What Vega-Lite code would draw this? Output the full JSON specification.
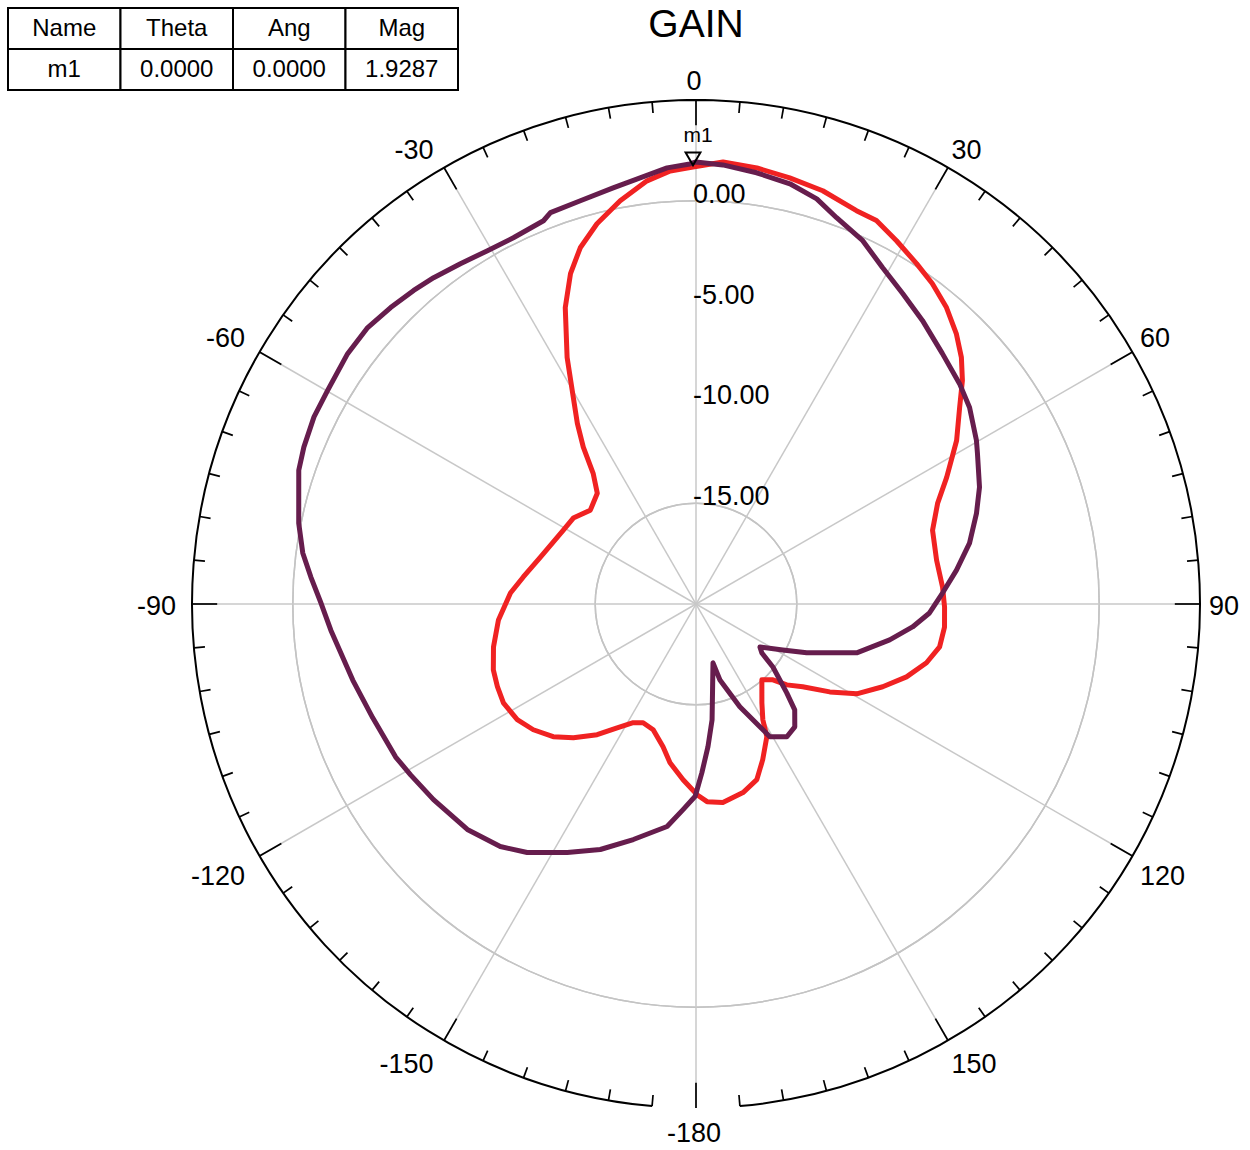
{
  "$schema": "https://vega.github.io/schema/vega-lite/v6.json",
  "width": 1008,
  "height": 1008,
  "autosize": "none",
  "padding": {"left": 192, "top": 100, "right": 50, "bottom": 42},
  "background": "white",
  "config": {"view": {"stroke": null}, "axis": {"disable": true}, "font": "Liberation Sans", "text": {"font": "Liberation Sans"}},
  "resolve": {"scale": {"x": "independent", "y": "independent"}},
  "datasets": {
    "curves": [
      {"s": "trace1", "theta": -180, "gain": -10.6},
      {"s": "trace1", "theta": -175.8, "gain": -11.26},
      {"s": "trace1", "theta": -170.7, "gain": -12.02},
      {"s": "trace1", "theta": -167.0, "gain": -12.73},
      {"s": "trace1", "theta": -161.2, "gain": -13.41},
      {"s": "trace1", "theta": -156.0, "gain": -13.55},
      {"s": "trace1", "theta": -152.1, "gain": -13.34},
      {"s": "trace1", "theta": -147.5, "gain": -12.72},
      {"s": "trace1", "theta": -142.9, "gain": -11.87},
      {"s": "trace1", "theta": -137.5, "gain": -11.0},
      {"s": "trace1", "theta": -132.9, "gain": -10.33},
      {"s": "trace1", "theta": -127.7, "gain": -9.8},
      {"s": "trace1", "theta": -122.9, "gain": -9.44},
      {"s": "trace1", "theta": -117.2, "gain": -9.26},
      {"s": "trace1", "theta": -112.6, "gain": -9.33},
      {"s": "trace1", "theta": -108.0, "gain": -9.43},
      {"s": "trace1", "theta": -102.0, "gain": -9.73},
      {"s": "trace1", "theta": -94.6, "gain": -10.17},
      {"s": "trace1", "theta": -86.6, "gain": -10.78},
      {"s": "trace1", "theta": -81.1, "gain": -11.33},
      {"s": "trace1", "theta": -73.2, "gain": -11.94},
      {"s": "trace1", "theta": -60.9, "gain": -12.47},
      {"s": "trace1", "theta": -55.0, "gain": -12.57},
      {"s": "trace1", "theta": -48.4, "gain": -12.99},
      {"s": "trace1", "theta": -41.7, "gain": -12.64},
      {"s": "trace1", "theta": -38.2, "gain": -11.75},
      {"s": "trace1", "theta": -35.7, "gain": -10.42},
      {"s": "trace1", "theta": -33.3, "gain": -9.28},
      {"s": "trace1", "theta": -30.1, "gain": -7.76},
      {"s": "trace1", "theta": -27.6, "gain": -6.2},
      {"s": "trace1", "theta": -23.8, "gain": -3.93},
      {"s": "trace1", "theta": -20.8, "gain": -2.47},
      {"s": "trace1", "theta": -18.0, "gain": -1.42},
      {"s": "trace1", "theta": -14.6, "gain": -0.51},
      {"s": "trace1", "theta": -10.65, "gain": 0.35},
      {"s": "trace1", "theta": -6.6, "gain": 1.13},
      {"s": "trace1", "theta": -3.4, "gain": 1.52},
      {"s": "trace1", "theta": -0.4, "gain": 1.68},
      {"s": "trace1", "theta": 3.5, "gain": 1.97},
      {"s": "trace1", "theta": 7.95, "gain": 1.84},
      {"s": "trace1", "theta": 12.4, "gain": 1.64},
      {"s": "trace1", "theta": 17.05, "gain": 1.44},
      {"s": "trace1", "theta": 22.2, "gain": 1.07},
      {"s": "trace1", "theta": 25.2, "gain": 1.02},
      {"s": "trace1", "theta": 28.9, "gain": 0.58},
      {"s": "trace1", "theta": 32.95, "gain": 0.12},
      {"s": "trace1", "theta": 36.4, "gain": -0.25},
      {"s": "trace1", "theta": 40.2, "gain": -0.75},
      {"s": "trace1", "theta": 43.9, "gain": -1.38},
      {"s": "trace1", "theta": 47.1, "gain": -2.03},
      {"s": "trace1", "theta": 50.0, "gain": -2.75},
      {"s": "trace1", "theta": 53.3, "gain": -3.69},
      {"s": "trace1", "theta": 57.9, "gain": -4.74},
      {"s": "trace1", "theta": 63.2, "gain": -6.07},
      {"s": "trace1", "theta": 67.4, "gain": -7.02},
      {"s": "trace1", "theta": 72.7, "gain": -7.71},
      {"s": "trace1", "theta": 79.7, "gain": -7.87},
      {"s": "trace1", "theta": 86.1, "gain": -7.74},
      {"s": "trace1", "theta": 90.7, "gain": -7.67},
      {"s": "trace1", "theta": 95.3, "gain": -7.62},
      {"s": "trace1", "theta": 100.0, "gain": -7.73},
      {"s": "trace1", "theta": 104.3, "gain": -8.2},
      {"s": "trace1", "theta": 109.1, "gain": -8.95},
      {"s": "trace1", "theta": 113.9, "gain": -9.87},
      {"s": "trace1", "theta": 119.2, "gain": -10.87},
      {"s": "trace1", "theta": 123.3, "gain": -12.06},
      {"s": "trace1", "theta": 127.8, "gain": -13.3},
      {"s": "trace1", "theta": 131.7, "gain": -13.97},
      {"s": "trace1", "theta": 134.6, "gain": -14.64},
      {"s": "trace1", "theta": 139.0, "gain": -15.02},
      {"s": "trace1", "theta": 146.3, "gain": -14.11},
      {"s": "trace1", "theta": 150.0, "gain": -13.37},
      {"s": "trace1", "theta": 151.9, "gain": -12.54},
      {"s": "trace1", "theta": 156.8, "gain": -11.6},
      {"s": "trace1", "theta": 160.9, "gain": -10.78},
      {"s": "trace1", "theta": 166.0, "gain": -10.36},
      {"s": "trace1", "theta": 172.3, "gain": -10.06},
      {"s": "trace1", "theta": 176.8, "gain": -10.18},
      {"s": "trace1", "theta": 179.7, "gain": -10.54},
      {"s": "trace1", "theta": 180, "gain": -10.6},
      {"s": "trace2", "theta": -180, "gain": -10.6},
      {"s": "trace2", "theta": -179.7, "gain": -10.45},
      {"s": "trace2", "theta": -176.4, "gain": -9.78},
      {"s": "trace2", "theta": -172.6, "gain": -8.87},
      {"s": "trace2", "theta": -165.1, "gain": -7.91},
      {"s": "trace2", "theta": -158.7, "gain": -6.93},
      {"s": "trace2", "theta": -152.6, "gain": -6.12},
      {"s": "trace2", "theta": -145.8, "gain": -5.1},
      {"s": "trace2", "theta": -141.1, "gain": -4.54},
      {"s": "trace2", "theta": -134.6, "gain": -4.07},
      {"s": "trace2", "theta": -126.7, "gain": -3.76},
      {"s": "trace2", "theta": -120.9, "gain": -3.5},
      {"s": "trace2", "theta": -117.0, "gain": -3.28},
      {"s": "trace2", "theta": -109.4, "gain": -3.0},
      {"s": "trace2", "theta": -102.5, "gain": -2.56},
      {"s": "trace2", "theta": -94.1, "gain": -1.84},
      {"s": "trace2", "theta": -89.8, "gain": -1.39},
      {"s": "trace2", "theta": -86.0, "gain": -0.85},
      {"s": "trace2", "theta": -82.6, "gain": -0.33},
      {"s": "trace2", "theta": -78.5, "gain": 0.11},
      {"s": "trace2", "theta": -71.4, "gain": 0.79},
      {"s": "trace2", "theta": -68.2, "gain": 0.95},
      {"s": "trace2", "theta": -63.9, "gain": 1.1},
      {"s": "trace2", "theta": -59.9, "gain": 1.12},
      {"s": "trace2", "theta": -54.3, "gain": 1.28},
      {"s": "trace2", "theta": -49.9, "gain": 1.29},
      {"s": "trace2", "theta": -45.85, "gain": 1.11},
      {"s": "trace2", "theta": -42.0, "gain": 0.93},
      {"s": "trace2", "theta": -38.8, "gain": 0.77},
      {"s": "trace2", "theta": -34.7, "gain": 0.53},
      {"s": "trace2", "theta": -30.55, "gain": 0.35},
      {"s": "trace2", "theta": -26.5, "gain": 0.3},
      {"s": "trace2", "theta": -21.7, "gain": 0.46},
      {"s": "trace2", "theta": -20.4, "gain": 0.71},
      {"s": "trace2", "theta": -16.0, "gain": 0.81},
      {"s": "trace2", "theta": -11.26, "gain": 1.05},
      {"s": "trace2", "theta": -7.47, "gain": 1.32},
      {"s": "trace2", "theta": -3.8, "gain": 1.68},
      {"s": "trace2", "theta": -0.8, "gain": 1.83},
      {"s": "trace2", "theta": 0, "gain": 1.9287},
      {"s": "trace2", "theta": 3.5, "gain": 1.82},
      {"s": "trace2", "theta": 8.0, "gain": 1.6},
      {"s": "trace2", "theta": 12.6, "gain": 1.36},
      {"s": "trace2", "theta": 16.6, "gain": 0.97},
      {"s": "trace2", "theta": 20.0, "gain": 0.39},
      {"s": "trace2", "theta": 24.65, "gain": -0.17},
      {"s": "trace2", "theta": 29.0, "gain": -0.92},
      {"s": "trace2", "theta": 33.65, "gain": -1.5},
      {"s": "trace2", "theta": 38.6, "gain": -2.0},
      {"s": "trace2", "theta": 44.5, "gain": -2.57},
      {"s": "trace2", "theta": 50.1, "gain": -2.96},
      {"s": "trace2", "theta": 54.3, "gain": -3.29},
      {"s": "trace2", "theta": 59.7, "gain": -3.89},
      {"s": "trace2", "theta": 61.8, "gain": -4.16},
      {"s": "trace2", "theta": 67.6, "gain": -4.79},
      {"s": "trace2", "theta": 72.1, "gain": -5.38},
      {"s": "trace2", "theta": 77.45, "gain": -6.1},
      {"s": "trace2", "theta": 82.6, "gain": -6.97},
      {"s": "trace2", "theta": 87.45, "gain": -7.76},
      {"s": "trace2", "theta": 92.2, "gain": -8.41},
      {"s": "trace2", "theta": 96.05, "gain": -9.2},
      {"s": "trace2", "theta": 100.5, "gain": -10.23},
      {"s": "trace2", "theta": 106.9, "gain": -11.67},
      {"s": "trace2", "theta": 113.8, "gain": -14.0},
      {"s": "trace2", "theta": 117.9, "gain": -15.13},
      {"s": "trace2", "theta": 123.9, "gain": -16.18},
      {"s": "trace2", "theta": 126.6, "gain": -15.93},
      {"s": "trace2", "theta": 129.3, "gain": -15.07},
      {"s": "trace2", "theta": 134.4, "gain": -13.7},
      {"s": "trace2", "theta": 137.0, "gain": -12.82},
      {"s": "trace2", "theta": 141.2, "gain": -12.18},
      {"s": "trace2", "theta": 145.6, "gain": -12.02},
      {"s": "trace2", "theta": 150.9, "gain": -12.47},
      {"s": "trace2", "theta": 152.5, "gain": -13.14},
      {"s": "trace2", "theta": 156.9, "gain": -14.46},
      {"s": "trace2", "theta": 162.5, "gain": -16.05},
      {"s": "trace2", "theta": 163.9, "gain": -16.96},
      {"s": "trace2", "theta": 172.1, "gain": -14.2},
      {"s": "trace2", "theta": 175.2, "gain": -12.9},
      {"s": "trace2", "theta": 178.0, "gain": -11.63},
      {"s": "trace2", "theta": 180, "gain": -10.6}
    ],
    "ticks": [
      {"a": -175}, {"a": -170}, {"a": -165}, {"a": -160}, {"a": -155}, {"a": -150},
      {"a": -145}, {"a": -140}, {"a": -135}, {"a": -130}, {"a": -125}, {"a": -120},
      {"a": -115}, {"a": -110}, {"a": -105}, {"a": -100}, {"a": -95}, {"a": -90},
      {"a": -85}, {"a": -80}, {"a": -75}, {"a": -70}, {"a": -65}, {"a": -60},
      {"a": -55}, {"a": -50}, {"a": -45}, {"a": -40}, {"a": -35}, {"a": -30},
      {"a": -25}, {"a": -20}, {"a": -15}, {"a": -10}, {"a": -5}, {"a": 0},
      {"a": 5}, {"a": 10}, {"a": 15}, {"a": 20}, {"a": 25}, {"a": 30},
      {"a": 35}, {"a": 40}, {"a": 45}, {"a": 50}, {"a": 55}, {"a": 60},
      {"a": 65}, {"a": 70}, {"a": 75}, {"a": 80}, {"a": 85}, {"a": 90},
      {"a": 95}, {"a": 100}, {"a": 105}, {"a": 110}, {"a": 115}, {"a": 120},
      {"a": 125}, {"a": 130}, {"a": 135}, {"a": 140}, {"a": 145}, {"a": 150},
      {"a": 155}, {"a": 160}, {"a": 165}, {"a": 170}, {"a": 175}, {"a": 180}
    ],
    "spokes": [
      {"a": -150, "t": "-150"}, {"a": -120, "t": "-120"}, {"a": -90, "t": "-90"},
      {"a": -60, "t": "-60"}, {"a": -30, "t": "-30"}, {"a": 0, "t": "0"},
      {"a": 30, "t": "30"}, {"a": 60, "t": "60"}, {"a": 90, "t": "90"},
      {"a": 120, "t": "120"}, {"a": 150, "t": "150"}, {"a": 180, "t": "-180"}
    ],
    "table": [
      {"row": "h", "col": "Name", "t": "Name"},
      {"row": "h", "col": "Theta", "t": "Theta"},
      {"row": "h", "col": "Ang", "t": "Ang"},
      {"row": "h", "col": "Mag", "t": "Mag"},
      {"row": "v", "col": "Name", "t": "m1"},
      {"row": "v", "col": "Theta", "t": "0.0000"},
      {"row": "v", "col": "Ang", "t": "0.0000"},
      {"row": "v", "col": "Mag", "t": "1.9287"}
    ]
  },
  "layer": [
    {
      "data": {"values": [{"ring": -15}, {"ring": -10}, {"ring": -5}, {"ring": 0}]},
      "mark": {"type": "arc", "theta": 0, "theta2": 6.2832, "filled": false, "color": "#c4c4c4", "strokeWidth": 1.5},
      "encoding": {
        "radius": {"field": "ring", "type": "quantitative", "scale": {"type": "linear", "domain": [-20, 5], "range": [0, 504], "zero": false, "nice": false}}
      }
    },
    {
      "data": {"name": "spokes"},
      "transform": [
        {"calculate": "0", "as": "x1"},
        {"calculate": "25*sin(datum.a*PI/180)", "as": "x2"},
        {"calculate": "25*cos(datum.a*PI/180)", "as": "y2"}
      ],
      "mark": {"type": "rule", "color": "#c8c8c8", "strokeWidth": 1.5},
      "encoding": {
        "x": {"field": "x1", "type": "quantitative", "scale": {"domain": [-25, 25], "nice": false, "zero": false}},
        "y": {"field": "x1", "type": "quantitative", "scale": {"domain": [-25, 25], "nice": false, "zero": false}},
        "x2": {"field": "x2"},
        "y2": {"field": "y2"}
      }
    },
    {
      "data": {"name": "ticks"},
      "transform": [
        {"calculate": "datum.a % 30 === 0 ? 23.75 : 24.45", "as": "ri"},
        {"calculate": "25*sin(datum.a*PI/180)", "as": "x1"},
        {"calculate": "25*cos(datum.a*PI/180)", "as": "y1"},
        {"calculate": "datum.ri*sin(datum.a*PI/180)", "as": "x2"},
        {"calculate": "datum.ri*cos(datum.a*PI/180)", "as": "y2"}
      ],
      "mark": {"type": "rule", "color": "#000000", "strokeWidth": 1.7},
      "encoding": {
        "x": {"field": "x1", "type": "quantitative", "scale": {"domain": [-25, 25], "nice": false, "zero": false}},
        "y": {"field": "y1", "type": "quantitative", "scale": {"domain": [-25, 25], "nice": false, "zero": false}},
        "x2": {"field": "x2"},
        "y2": {"field": "y2"}
      }
    },
    {
      "data": {"values": [{"ring": 5}]},
      "mark": {"type": "arc", "theta": -3.0543, "theta2": 3.0543, "filled": false, "color": "#000000", "strokeWidth": 2},
      "encoding": {
        "radius": {"field": "ring", "type": "quantitative", "scale": {"type": "linear", "domain": [-20, 5], "range": [0, 504], "zero": false, "nice": false}},
        "radius2": {"field": "ring"}
      }
    },
    {
      "data": {"values": [{"g": 0, "t": "0.00"}, {"g": -5, "t": "-5.00"}, {"g": -10, "t": "-10.00"}, {"g": -15, "t": "-15.00"}]},
      "transform": [{"calculate": "0", "as": "lx"}, {"calculate": "datum.g + 20", "as": "ly"}],
      "mark": {"type": "text", "align": "left", "baseline": "alphabetic", "dx": -3, "dy": 2, "fontSize": 27, "color": "#000000"},
      "encoding": {
        "x": {"field": "lx", "type": "quantitative", "scale": {"domain": [-25, 25], "nice": false, "zero": false}},
        "y": {"field": "ly", "type": "quantitative", "scale": {"domain": [-25, 25], "nice": false, "zero": false}},
        "text": {"field": "t"}
      }
    },
    {
      "data": {"name": "curves"},
      "transform": [
        {"calculate": "(datum.gain + 20)*sin(datum.theta*PI/180)", "as": "px"},
        {"calculate": "(datum.gain + 20)*cos(datum.theta*PI/180)", "as": "py"}
      ],
      "mark": {"type": "line", "strokeWidth": 5, "strokeJoin": "round", "strokeCap": "round"},
      "encoding": {
        "x": {"field": "px", "type": "quantitative", "scale": {"domain": [-25, 25], "nice": false, "zero": false}},
        "y": {"field": "py", "type": "quantitative", "scale": {"domain": [-25, 25], "nice": false, "zero": false}},
        "order": {"field": "theta", "type": "quantitative"},
        "color": {"field": "s", "type": "nominal", "scale": {"domain": ["trace1", "trace2"], "range": ["#f02222", "#661d4d"]}, "legend": null}
      }
    },
    {
      "data": {"name": "spokes"},
      "transform": [
        {"calculate": "sin(datum.a*PI/180)", "as": "sx"},
        {"calculate": "cos(datum.a*PI/180)", "as": "cx"},
        {"calculate": "abs(datum.sx) < 0.01 ? 0 : (datum.sx > 0 ? 1 : -1)", "as": "hx"},
        {"calculate": "abs(datum.cx) < 0.01 ? 0 : (datum.cx > 0 ? 0.5 : -0.6)", "as": "hy"},
        {"calculate": "15*length(datum.t) / 20.16", "as": "w"},
        {"calculate": "25.55*datum.sx + datum.hx*datum.w/2", "as": "lx"},
        {"calculate": "25.55*datum.cx + datum.hy", "as": "ly"}
      ],
      "mark": {"type": "text", "align": "center", "baseline": "middle", "fontSize": 27, "dx": -2, "dy": 3, "color": "#000000"},
      "encoding": {
        "x": {"field": "lx", "type": "quantitative", "scale": {"domain": [-25, 25], "nice": false, "zero": false}},
        "y": {"field": "ly", "type": "quantitative", "scale": {"domain": [-25, 25], "nice": false, "zero": false}},
        "text": {"field": "t"}
      }
    },
    {
      "data": {"values": [{"name": "m1", "theta": 0, "gain": 1.9287}]},
      "transform": [
        {"calculate": "(datum.gain + 20)*sin(datum.theta*PI/180)", "as": "px"},
        {"calculate": "(datum.gain + 20)*cos(datum.theta*PI/180)", "as": "py"}
      ],
      "layer": [
        {
          "mark": {"type": "point", "shape": "triangle-down", "filled": false, "color": "#000000", "strokeWidth": 2, "size": 220, "yOffset": -3, "xOffset": -3, "opacity": 1},
          "encoding": {
            "x": {"field": "px", "type": "quantitative", "scale": {"domain": [-25, 25], "nice": false, "zero": false}},
            "y": {"field": "py", "type": "quantitative", "scale": {"domain": [-25, 25], "nice": false, "zero": false}}
          }
        },
        {
          "mark": {"type": "text", "align": "center", "baseline": "middle", "fontSize": 21, "dy": -26, "dx": 2, "color": "#000000"},
          "encoding": {
            "x": {"field": "px", "type": "quantitative", "scale": {"domain": [-25, 25], "nice": false, "zero": false}},
            "y": {"field": "py", "type": "quantitative", "scale": {"domain": [-25, 25], "nice": false, "zero": false}},
            "text": {"field": "name"}
          }
        }
      ]
    },
    {
      "data": {"values": [{"t": "GAIN"}]},
      "mark": {"type": "text", "align": "center", "baseline": "middle", "fontSize": 39, "color": "#000000"},
      "encoding": {
        "x": {"datum": 0, "type": "quantitative", "scale": {"domain": [-25, 25], "nice": false, "zero": false}},
        "y": {"datum": 28.7, "type": "quantitative", "scale": {"domain": [-25, 25], "nice": false, "zero": false}},
        "text": {"field": "t"}
      }
    },
    {
      "data": {"name": "table"},
      "layer": [
        {
          "mark": {"type": "rect", "fill": "#ffffff", "stroke": "#000000", "strokeWidth": 2},
          "encoding": {
            "x": {"field": "col", "type": "nominal", "sort": null, "scale": {"domain": ["Name", "Theta", "Ang", "Mag"], "range": [-184, 266], "paddingInner": 0, "paddingOuter": 0}},
            "y": {"field": "row", "type": "nominal", "sort": null, "scale": {"domain": ["h", "v"], "range": [-92, -10], "paddingInner": 0, "paddingOuter": 0}}
          }
        },
        {
          "mark": {"type": "text", "align": "center", "baseline": "middle", "fontSize": 24, "color": "#000000"},
          "encoding": {
            "x": {"field": "col", "type": "nominal", "sort": null, "scale": {"domain": ["Name", "Theta", "Ang", "Mag"], "range": [-184, 266], "paddingInner": 0, "paddingOuter": 0}},
            "y": {"field": "row", "type": "nominal", "sort": null, "scale": {"domain": ["h", "v"], "range": [-92, -10], "paddingInner": 0, "paddingOuter": 0}},
            "text": {"field": "t"}
          }
        }
      ]
    }
  ]
}
